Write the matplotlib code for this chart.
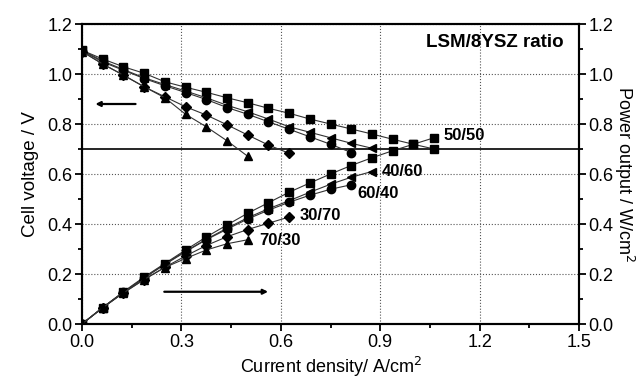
import matplotlib
matplotlib.use("Agg")
import matplotlib.pyplot as plt
from matplotlib.ticker import MultipleLocator

plt.rcParams['font.family'] = ['Liberation Sans', 'DejaVu Sans']

# current density steps (A/cm2)
current = [0.0, 0.0625, 0.125, 0.1875, 0.25, 0.3125, 0.375, 0.4375, 0.5,
           0.5625, 0.625, 0.6875, 0.75, 0.8125, 0.875, 0.9375, 1.0, 1.0625]

labels = ['50/50', '40/60', '60/40', '30/70', '70/30']
markers = ['s', '<', 'o', 'D', '^']

# cell voltage (V)
v_50_50 = [1.095, 1.060, 1.029, 1.003, 0.969, 0.947, 0.927, 0.905, 0.885,
           0.863, 0.843, 0.820, 0.800, 0.780, 0.760, 0.739, 0.719, 0.700]
v_40_60 = [1.095, 1.052, 1.018, 0.985, 0.958, 0.932, 0.905, 0.875, 0.849,
           0.820, 0.789, 0.767, 0.745, 0.723, 0.703]
v_60_40 = [1.093, 1.048, 1.015, 0.982, 0.953, 0.926, 0.898, 0.866, 0.839,
           0.809, 0.779, 0.749, 0.719, 0.686]
v_30_70 = [1.090, 1.040, 0.996, 0.949, 0.909, 0.869, 0.836, 0.797, 0.756,
           0.716, 0.683]
v_70_30 = [1.090, 1.040, 0.995, 0.949, 0.905, 0.839, 0.789, 0.733, 0.671]

# power output (W/cm2)
p_50_50 = [0.0, 0.066, 0.129, 0.188, 0.242, 0.296, 0.348, 0.396, 0.443,
           0.485, 0.527, 0.564, 0.600, 0.634, 0.665, 0.693, 0.719, 0.745]
p_40_60 = [0.0, 0.066, 0.127, 0.185, 0.240, 0.291, 0.339, 0.383, 0.425,
           0.461, 0.493, 0.527, 0.559, 0.587, 0.610]
p_60_40 = [0.0, 0.066, 0.127, 0.184, 0.238, 0.289, 0.337, 0.379, 0.420,
           0.455, 0.487, 0.515, 0.539, 0.557]
p_30_70 = [0.0, 0.065, 0.125, 0.178, 0.227, 0.272, 0.314, 0.349, 0.378,
           0.403, 0.428]
p_70_30 = [0.0, 0.065, 0.124, 0.178, 0.226, 0.262, 0.296, 0.321, 0.337]

volts = [v_50_50, v_40_60, v_60_40, v_30_70, v_70_30]
powers = [p_50_50, p_40_60, p_60_40, p_30_70, p_70_30]

# where the ratio labels sit (x, y in data units)
label_pos = [(1.09, 0.756), (0.905, 0.609), (0.83, 0.524), (0.657, 0.436), (0.535, 0.333)]

fig = plt.figure(figsize=(6.42, 3.81), dpi=100)
ax = fig.add_axes([0.1277, 0.1496, 0.7742, 0.7874])

for v, p, m in zip(volts, powers, markers):
    ms = 5.6
    if m == 'D':
        ms = 4.8
    if m == 'o':
        ms = 6
    ax.plot(current[:len(v)], v, color='#333333', lw=0.8, marker=m,
            ms=ms, mfc='black', mec='black', zorder=3)
    ax.plot(current[:len(p)], p, color='#333333', lw=0.8, marker=m,
            ms=ms, mfc='black', mec='black', zorder=3)

for lab, (lx, ly) in zip(labels, label_pos):
    ax.text(lx, ly, lab, fontsize=12, fontweight='bold', va='center', ha='left')

ax.axhline(0.7, color='black', lw=1.2, zorder=2)

ax.text(1.455, 1.128, 'LSM/8YSZ ratio', fontsize=13.5, fontweight='bold',
        ha='right', va='center')

ax.annotate('', xy=(0.032, 0.88), xytext=(0.17, 0.88),
            arrowprops=dict(arrowstyle='-|>', color='black', lw=1.6,
                            mutation_scale=7))
ax.annotate('', xy=(0.57, 0.129), xytext=(0.24, 0.129),
            arrowprops=dict(arrowstyle='-|>', color='black', lw=1.6,
                            mutation_scale=7))

ax.set_xlim(0, 1.5)
ax.set_ylim(0, 1.2)
ax.xaxis.set_major_locator(MultipleLocator(0.3))
ax.xaxis.set_minor_locator(MultipleLocator(0.15))
ax.yaxis.set_major_locator(MultipleLocator(0.2))
ax.yaxis.set_minor_locator(MultipleLocator(0.1))
ax.xaxis.set_major_formatter(plt.FormatStrFormatter('%.1f'))
ax.yaxis.set_major_formatter(plt.FormatStrFormatter('%.1f'))
ax.grid(True, which='major', ls=':', color='#555555', lw=0.8)
ax.tick_params(which='both', direction='out', labelsize=13, width=1.3, top=False)
ax.tick_params(which='major', length=5, pad=2)
ax.tick_params(which='minor', length=3)
for s in ax.spines.values():
    s.set_linewidth(1.5)

ax.set_xlabel('Current density/ A/cm$^2$', fontsize=13, labelpad=3)
ax.set_ylabel('Cell voltage / V', fontsize=13.5, labelpad=6)

ax2 = ax.twinx()
ax2.set_ylim(0, 1.2)
ax2.yaxis.set_major_locator(MultipleLocator(0.2))
ax2.yaxis.set_minor_locator(MultipleLocator(0.1))
ax2.yaxis.set_major_formatter(plt.FormatStrFormatter('%.1f'))
ax2.tick_params(which='both', direction='out', labelsize=13, width=1.3)
ax2.tick_params(which='major', length=5, pad=2)
ax2.tick_params(which='minor', length=3)
for s in ax2.spines.values():
    s.set_linewidth(1.5)
ax2.set_ylabel('Power output / W/cm$^2$', fontsize=13, rotation=270,
               labelpad=16)

fig.savefig('out.png', dpi=100)
